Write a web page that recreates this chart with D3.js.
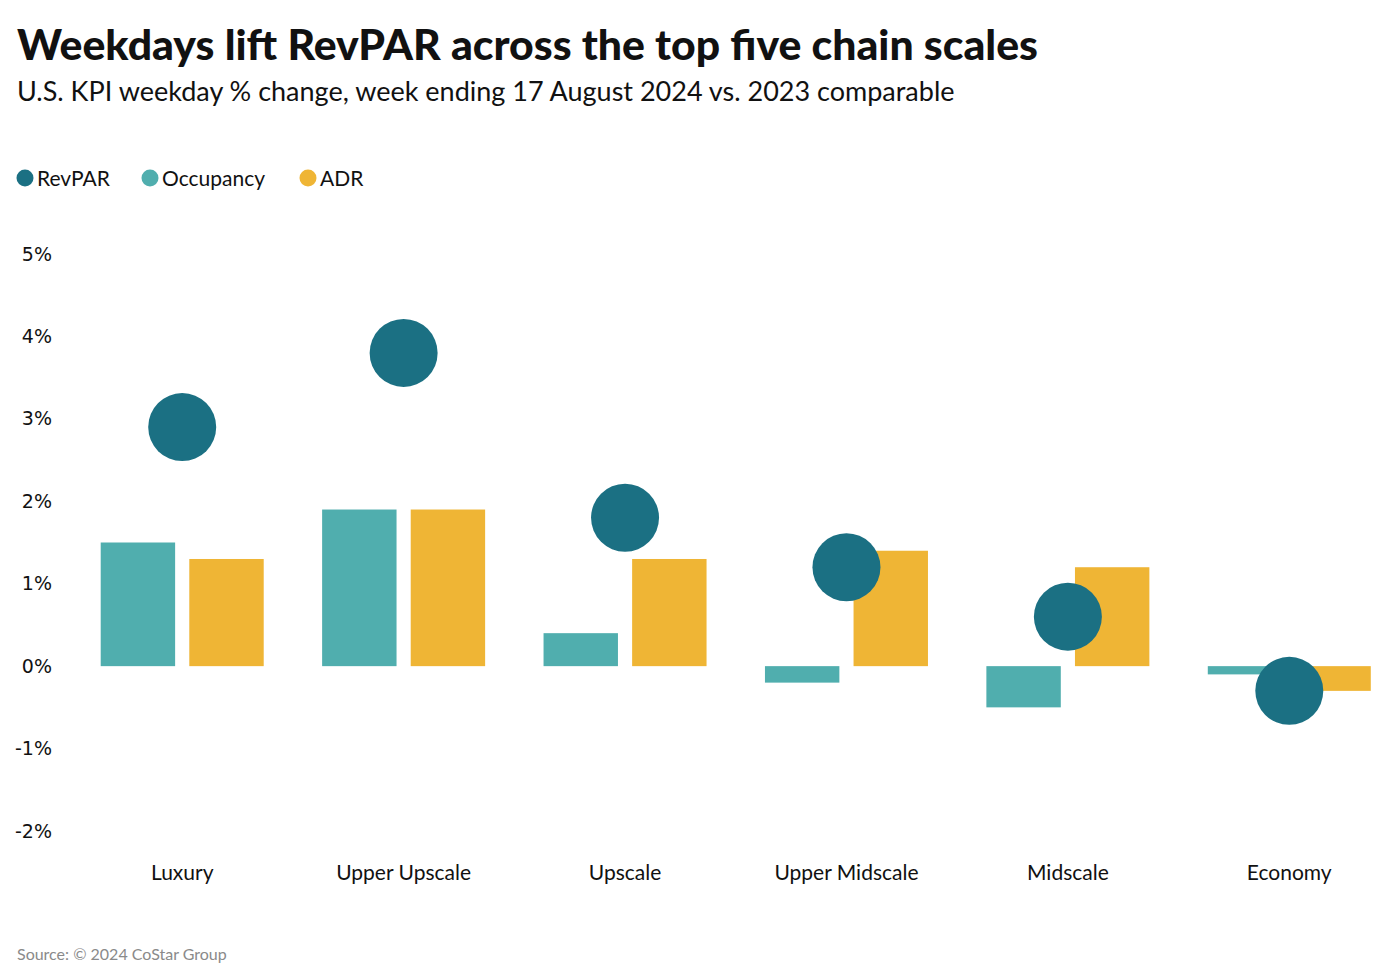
<!DOCTYPE html>
<html><head><meta charset="utf-8">
<script src="https://cdn.jsdelivr.net/npm/d3@7"></script>
<style>body{margin:0;background:#fff;} svg{display:block;}</style>
</head><body>
<svg id="c" width="1386" height="978"></svg>
<script>
const categories = ["Luxury","Upper Upscale","Upscale","Upper Midscale","Midscale","Economy"];
const revpar    = [2.9, 3.8, 1.8, 1.2, 0.6, -0.3];
const occupancy = [1.5, 1.9, 0.4, -0.2, -0.5, -0.1];
const adr       = [1.3, 1.9, 1.3, 1.4, 1.2, -0.3];
const yTicks = [-2,-1,0,1,2,3,4,5];
const seriesNames = ["RevPAR","Occupancy","ADR"];
const colors = {RevPAR:"#1b7083", Occupancy:"#50aeae", ADR:"#efb535"};

const font = "Lato, 'Source Sans Pro', sans-serif";
const svg = d3.select("#c");

svg.append("text").attr("x",17).attr("y",60).attr("font-family",font)
  .attr("font-weight",900).attr("font-size",42).attr("fill","#111")
  .attr("textLength",1021).attr("lengthAdjust","spacingAndGlyphs")
  .text("Weekdays lift RevPAR across the top five chain scales");
svg.append("text").attr("x",17).attr("y",101).attr("font-family",font)
  .attr("font-size",27).attr("fill","#111")
  .text("U.S. KPI weekday % change, week ending 17 August 2024 vs. 2023 comparable");

// legend
const legX = [25,150,308];
seriesNames.forEach((s,i)=>{
  svg.append("circle").attr("cx",legX[i]).attr("cy",178).attr("r",8.5).attr("fill",colors[s]);
  svg.append("text").attr("x",legX[i]+12).attr("y",186).attr("font-family",font)
    .attr("font-size",21).attr("fill","#111").text(s);
});

const y = d3.scaleLinear().domain([-2,5]).range([831,254]);
const x = d3.scaleBand().domain(categories).range([71.5,1400]).paddingInner(0).paddingOuter(0);
const x1 = d3.scaleBand().domain(["Occupancy","ADR"]).range([0,163]).paddingInner(0.16);

const yAxis = d3.axisLeft(y).tickValues(yTicks).tickFormat(d=>d+"%").tickSize(0).tickPadding(0);
const ga = svg.append("g").attr("transform","translate(52,0)").call(yAxis);
ga.select(".domain").remove();
ga.selectAll("text").attr("font-family","'DejaVu Sans', sans-serif").attr("font-size",19).attr("fill","#111");

const xAxis = d3.axisBottom(x).tickSize(0).tickPadding(0);
const gx = svg.append("g").attr("transform","translate(0,865)").call(xAxis);
gx.select(".domain").remove();
gx.selectAll("text").attr("font-family",font).attr("font-size",21).attr("fill","#111");

const groups = svg.append("g").selectAll("g").data(categories).join("g")
  .attr("transform",d=>`translate(${x(d)+x.bandwidth()/2-81.5},0)`);
const bars = [{k:"Occupancy",v:occupancy},{k:"ADR",v:adr}];
groups.each(function(c,i){
  const g = d3.select(this);
  bars.forEach(b=>{
    const v=b.v[i];
    g.append("rect").attr("x",x1(b.k)).attr("width",x1.bandwidth())
      .attr("y",y(Math.max(0,v))).attr("height",Math.abs(y(v)-y(0)))
      .attr("fill",colors[b.k]);
  });
});
svg.append("g").selectAll("circle").data(categories).join("circle")
  .attr("cx",d=>x(d)+x.bandwidth()/2).attr("cy",(d,i)=>y(revpar[i]))
  .attr("r",34).attr("fill",colors.RevPAR);

svg.append("text").attr("x",17).attr("y",960).attr("font-family",font)
  .attr("font-size",16).attr("fill","#8a8a8a").text("Source: © 2024 CoStar Group");
</script>
</body></html>
